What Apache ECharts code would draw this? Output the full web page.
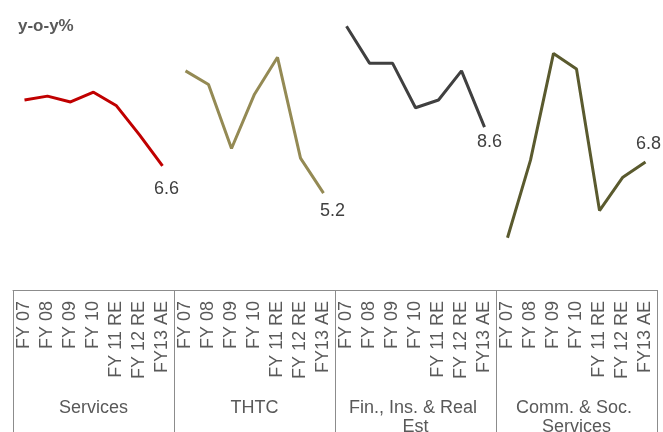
<!DOCTYPE html>
<html>
<head>
<meta charset="utf-8">
<script src="https://cdn.jsdelivr.net/npm/echarts@6/dist/echarts.min.js"></script>
<style>
html, body { margin: 0; padding: 0; background: #fff; }
#chart { width: 663px; height: 432px; }
</style>
</head>
<body>
<div id="chart"></div>
<script>
// categories
var years = ['FY 07', 'FY 08', 'FY 09', 'FY 10', 'FY 11 RE', 'FY 12 RE', 'FY13 AE'];
var groups = ['Services', 'THTC', 'Fin., Ins. & Real Est', 'Comm. & Soc. Services'];
// y-o-y growth, %
var services = [10.0, 10.2, 9.9, 10.4, 9.7, 8.2, 6.6];
var thtc = [11.5, 10.8, 7.5, 10.3, 12.2, 7.0, 5.2];
var finance = [13.8, 11.9, 11.9, 9.6, 10.0, 11.5, 8.6];
var community = [2.9, 6.9, 12.4, 11.6, 4.3, 6.0, 6.8];

var colors = ['#c00000', '#948a54', '#404040', '#5a5a2e'];
// where the end value label sits, per group
var endLabels = [
  { position: 'bottom', distance: 14, dx: 4 },
  { position: 'bottom', distance: 9, dx: 9 },
  { position: 'bottom', distance: 6, dx: 5 },
  { position: 'top', distance: 9, dx: 3 }
];

var chart = echarts.init(document.getElementById('chart'));

// one slot per (group, year) on a single category axis
var cats = [];
groups.forEach(function (g, gi) {
  years.forEach(function (y, yi) { cats.push(gi + '_' + yi); });
});

function buildSeries (values, gi) {
  var data = cats.map(function () { return null; });
  values.forEach(function (v, i) {
    if (i === values.length - 1) {
      data[gi * years.length + i] = {
        value: v,
        label: {
          show: true,
          position: endLabels[gi].position,
          distance: endLabels[gi].distance,
          offset: [endLabels[gi].dx, 0],
          fontSize: 18,
          color: '#404040'
        }
      };
    } else {
      data[gi * years.length + i] = v;
    }
  });
  return {
    name: groups[gi],
    type: 'line',
    data: data,
    symbol: 'circle',
    symbolSize: 0,
    showSymbol: true,
    connectNulls: false,
    lineStyle: { width: 3, color: colors[gi] },
    itemStyle: { color: colors[gi] },
    label: { show: false },
    silent: true
  };
}

chart.setOption({
  animation: false,
  textStyle: { fontFamily: 'Liberation Sans, Arial, sans-serif' },
  title: {
    text: 'y-o-y%',
    left: 13,
    top: 13,
    textStyle: { fontSize: 17, fontWeight: 'bold', color: '#595959' }
  },
  grid: { left: 13, right: 6, top: 3, bottom: 138, containLabel: false, outerBoundsMode: 'none' },
  xAxis: [
    {
      type: 'category',
      data: cats,
      position: 'bottom',
      offset: -4,
      axisLine: { show: true, lineStyle: { color: '#8c8c8c', width: 1 } },
      axisTick: { show: false },
      axisLabel: {
        interval: 0,
        rotate: 90,
        margin: 11,
        fontSize: 18,
        color: '#595959',
        formatter: function (v) { return years[+v.split('_')[1]]; }
      }
    },
    {
      type: 'category',
      data: groups,
      position: 'bottom',
      offset: -4,
      axisLine: { show: false },
      axisTick: { show: true, interval: 0, length: 150, lineStyle: { color: '#8c8c8c', width: 1 } },
      axisLabel: {
        interval: 0,
        margin: 109,
        fontSize: 18,
        lineHeight: 19,
        width: 150,
        overflow: 'break',
        color: '#595959'
      }
    }
  ],
  yAxis: { type: 'value', min: 0, max: 15, show: false },
  series: [
    buildSeries(services, 0),
    buildSeries(thtc, 1),
    buildSeries(finance, 2),
    buildSeries(community, 3)
  ]
});
</script>
</body>
</html>
